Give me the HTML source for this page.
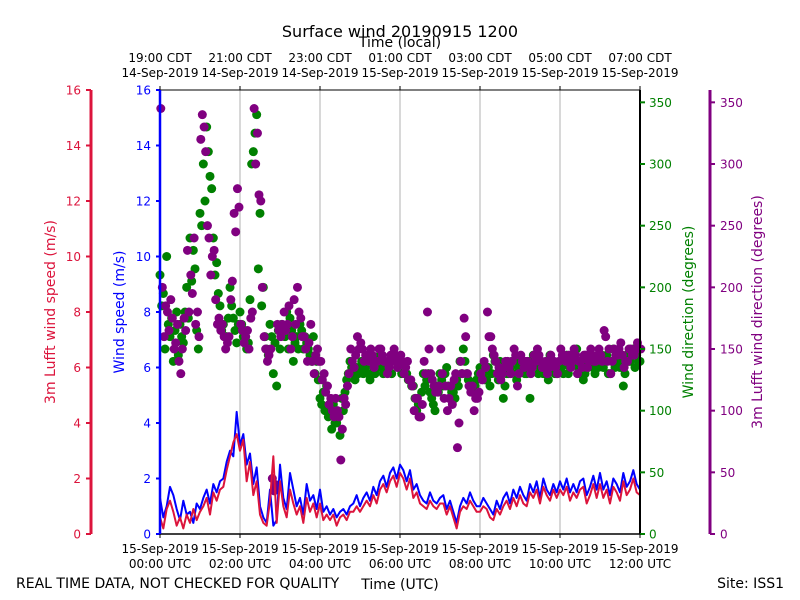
<!DOCTYPE html>
<html><head><meta charset="utf-8"><style>
html,body{margin:0;padding:0;background:#fff;width:800px;height:600px;overflow:hidden}
svg{font-family:"DejaVu Sans","Liberation Sans",sans-serif}
</style></head><body>
<svg id="c" width="800" height="600" viewBox="0 0 800 600"></svg>
<script>
const speedTicks=[0,2,4,6,8,10,12,14,16];
const dirTicks=[0,50,100,150,200,250,300,350];
const utcLabels=[["15-Sep-2019","00:00 UTC"],["15-Sep-2019","02:00 UTC"],["15-Sep-2019","04:00 UTC"],["15-Sep-2019","06:00 UTC"],["15-Sep-2019","08:00 UTC"],["15-Sep-2019","10:00 UTC"],["15-Sep-2019","12:00 UTC"]];
const cdtLabels=[["19:00 CDT","14-Sep-2019"],["21:00 CDT","14-Sep-2019"],["23:00 CDT","14-Sep-2019"],["01:00 CDT","15-Sep-2019"],["03:00 CDT","15-Sep-2019"],["05:00 CDT","15-Sep-2019"],["07:00 CDT","15-Sep-2019"]];
const windSpeed=[1.3,0.6,1.0,1.7,1.4,0.9,0.5,1.2,0.7,0.8,0.4,1.1,
0.9,1.3,1.6,1.1,1.8,1.5,1.9,2.0,2.6,3.0,2.8,4.4,
3.2,3.6,2.5,2.9,1.8,2.4,1.0,0.6,0.4,1.6,0.3,0.5,
2.5,1.3,0.9,2.2,1.6,1.0,1.3,0.7,1.8,1.2,1.4,0.9,
1.6,0.8,1.0,0.7,0.9,0.6,0.8,0.9,0.7,1.0,1.1,1.4,
1.0,1.3,1.5,1.2,1.7,1.4,1.9,2.1,1.7,2.2,2.4,2.0,
2.5,2.3,1.9,2.3,1.6,1.8,1.4,1.2,1.1,1.5,1.2,1.1,
1.3,1.4,0.9,1.2,0.8,0.4,1.0,1.3,1.1,1.5,1.2,1.0,
1.0,1.3,1.1,0.9,0.7,1.2,0.9,1.3,1.5,1.1,1.6,1.3,
1.7,1.4,1.2,1.8,1.5,1.9,1.3,2.0,1.6,1.4,1.8,1.5,
1.9,1.6,2.0,1.5,1.8,1.5,1.9,2.0,1.4,1.7,2.1,1.6,
2.2,1.6,1.9,1.4,2.0,1.8,1.5,2.2,1.7,1.9,2.3,1.8,1.6];
const lufftSpeed=[0.6,0.2,0.9,1.2,0.8,0.3,0.6,0.2,0.7,0.4,0.9,0.5,
0.8,1.0,1.3,0.7,1.5,1.2,1.6,1.7,2.3,2.8,3.3,3.6,
3.0,3.4,1.9,2.6,1.4,1.9,0.7,0.4,0.3,1.2,2.8,0.4,
1.9,1.0,0.6,1.6,1.1,0.7,1.0,0.4,1.3,0.8,1.1,0.6,
1.1,0.5,0.7,0.5,0.7,0.3,0.6,0.7,0.5,0.8,0.8,1.0,
0.8,1.0,1.2,1.0,1.4,1.1,1.6,1.8,1.5,1.9,2.1,1.7,
2.2,2.0,1.6,2.0,1.3,1.5,1.1,1.0,0.9,1.2,1.0,0.9,
1.1,1.1,0.7,1.0,0.6,0.2,0.8,1.0,0.9,1.2,1.0,0.8,
0.8,1.0,0.9,0.6,0.5,0.9,0.7,1.0,1.2,0.9,1.3,1.0,
1.4,1.1,1.0,1.5,1.3,1.6,1.1,1.7,1.4,1.2,1.6,1.3,
1.6,1.4,1.7,1.2,1.5,1.3,1.6,1.7,1.1,1.4,1.8,1.3,
1.8,1.3,1.6,1.1,1.7,1.5,1.2,1.9,1.4,1.6,2.0,1.5,1.4];
const windDir=[210,195,225,160,140,180,170,155,200,240,230,165,
260,300,330,290,240,220,185,170,160,200,175,155,
180,160,150,190,310,340,260,200,150,170,130,120,
150,165,180,175,140,160,170,150,155,145,160,140,
110,115,120,100,105,90,80,100,125,140,130,135,
135,130,140,125,135,140,145,130,135,140,145,140,
140,135,130,125,120,100,95,130,125,115,105,120,
130,120,135,110,115,125,140,150,130,120,115,125,
135,130,125,120,145,130,140,110,130,135,140,125,
140,135,130,110,145,140,135,130,140,145,135,130,
140,130,145,135,140,150,130,125,140,145,135,140,
140,135,145,130,150,140,135,120,145,140,150,145,140];
const windDirB=[185,150,170,175,165,145,160,180,175,205,215,150,
250,270,310,280,210,195,165,160,175,185,165,170,
170,165,155,300,325,215,185,160,145,160,155,165,
170,160,150,165,155,150,165,160,150,140,130,125,
105,100,95,85,90,95,110,115,130,135,125,130,
140,135,130,140,130,135,140,135,140,130,140,135,
130,130,125,120,110,105,115,120,130,110,100,115,
125,130,120,115,110,120,130,140,125,115,120,130,
130,125,135,130,140,125,135,120,130,140,130,135,
135,130,140,135,140,130,140,135,125,140,130,135,
135,140,130,140,145,135,140,130,135,140,130,135,
145,140,130,140,135,145,140,130,140,145,135,140];
const lufftDir=[345,160,180,190,150,170,130,175,230,210,240,180,
320,330,250,210,230,170,165,160,155,190,260,280,
170,155,165,175,345,325,270,160,140,150,35,170,
160,180,170,150,190,200,175,160,140,170,130,150,
140,130,120,110,95,100,60,110,120,150,135,160,
155,140,145,150,135,140,150,140,130,145,150,135,
145,130,140,125,100,110,95,140,180,130,120,115,
150,110,100,120,125,70,140,175,130,115,100,110,
130,140,180,160,145,130,125,135,140,130,150,120,
145,135,140,130,145,150,140,135,130,145,140,130,
150,145,140,135,150,130,140,145,135,150,140,145,
145,165,140,130,150,145,155,135,140,150,145,155,150];
const lufftDirB=[200,185,165,175,155,140,150,165,180,195,170,160,
340,310,240,225,190,175,170,150,160,205,245,265,
165,160,150,180,300,275,200,150,145,45,40,165,
170,165,185,160,170,180,160,150,155,140,145,140,
125,115,105,100,110,95,85,105,130,140,145,150,
150,145,140,145,140,150,145,140,135,140,145,140,
140,135,125,120,110,95,105,130,150,125,115,120,
130,120,110,105,130,90,130,160,120,120,110,115,
125,135,160,150,140,135,130,140,135,140,145,130,
140,140,135,135,140,145,135,140,135,140,135,140,
145,140,145,140,145,140,135,145,140,145,140,150,
140,160,150,140,145,150,145,140,150,145,150,150];

const X0=160,X1=640,Y0=534,Y1=90;
const xT=h=>X0+(X1-X0)*h/12;
const yS=v=>Y0-(Y0-Y1)*v/16;
const yD=d=>Y0-(Y0-Y1)*d/360;
const hourOf=i=>i*5/60;
const svg=document.getElementById('c');
const NS='http://www.w3.org/2000/svg';
function mk(tag,attrs,parent){const e=document.createElementNS(NS,tag);for(const k in attrs)e.setAttribute(k,attrs[k]);(parent||svg).appendChild(e);return e;}
function txt(s,x,y,o,parent){const e=mk('text',Object.assign({x:x,y:y,'font-size':12},o||{}),parent);e.textContent=s;return e;}

const grid=mk('g',{});


for(let h=2;h<12;h+=2){mk('line',{x1:xT(h),x2:xT(h),y1:Y1,y2:Y0,stroke:'#b0b0b0','stroke-width':1},grid);}

const gDir=mk('g',{});


function dots(arr,off,color,group,name){arr.forEach((d,i)=>{const c=mk('circle',{cx:xT(hourOf(i)+off),cy:yD(d),r:4.5,fill:color},group);});}
dots(windDir,0,'#008000',gDir,'wind-direction-point');
dots(windDirB,2.5/60,'#008000',gDir,'wind-direction-point');
const gL=mk('g',{});


dots(lufftDir,0.02,'#800080',gL,'lufft-direction-point');
dots(lufftDirB,3.5/60,'#800080',gL,'lufft-direction-point');

function line(arr,color,w,name){const p=mk('polyline',{points:arr.map((v,i)=>xT(hourOf(i))+','+yS(v)).join(' '),fill:'none',stroke:color,'stroke-width':w,'stroke-linejoin':'round'});}
line(windSpeed,'#0000ff',2,'wind-speed-line');
line(lufftSpeed,'#dc143c',2,'lufft-wind-speed-line');

mk('line',{x1:X0,x2:X1,y1:Y1,y2:Y1,stroke:'#000','stroke-width':1});
mk('line',{x1:X0,x2:X1,y1:Y0,y2:Y0,stroke:'#000','stroke-width':1.5});
mk('line',{x1:X0,x2:X0,y1:Y1,y2:Y0,stroke:'#0000ff','stroke-width':2.5});
mk('line',{x1:X1,x2:X1,y1:Y1,y2:Y0,stroke:'#000','stroke-width':2});
mk('line',{x1:91,x2:91,y1:Y1,y2:Y0,stroke:'#dc143c','stroke-width':3});
mk('line',{x1:710,x2:710,y1:Y1,y2:Y0,stroke:'#800080','stroke-width':3});

const ax=mk('g',{});


speedTicks.forEach(v=>{const y=yS(v);
 mk('line',{x1:156,x2:160,y1:y,y2:y,stroke:'#0000ff','stroke-width':2},ax);
 txt(String(v),151,y+4.5,{'text-anchor':'end',fill:'#0000ff'},ax);
 mk('line',{x1:86,x2:91,y1:y,y2:y,stroke:'#dc143c','stroke-width':2},ax);
 txt(String(v),81,y+4.5,{'text-anchor':'end',fill:'#dc143c'},ax);
});
dirTicks.forEach(d=>{const y=yD(d);
 mk('line',{x1:640,x2:645,y1:y,y2:y,stroke:'#008000','stroke-width':2},ax);
 txt(String(d),649,y+4.5,{fill:'#008000'},ax);
 mk('line',{x1:710,x2:715,y1:y,y2:y,stroke:'#800080','stroke-width':2},ax);
 txt(String(d),720,y+4.5,{fill:'#800080'},ax);
});
utcLabels.forEach((l,i)=>{const x=xT(i*2);
 mk('line',{x1:x,x2:x,y1:Y0,y2:Y0+4,stroke:'#000'},ax);
 txt(l[0],x,553,{'text-anchor':'middle'},ax);txt(l[1],x,568,{'text-anchor':'middle'},ax);
});
cdtLabels.forEach((l,i)=>{const x=xT(i*2);
 mk('line',{x1:x,x2:x,y1:Y1-4,y2:Y1,stroke:'#000'},ax);
 txt(l[0],x,62,{'text-anchor':'middle'},ax);txt(l[1],x,77,{'text-anchor':'middle'},ax);
});

function rot(s,x,y,color,name){const t=txt(s,x,y,{'text-anchor':'middle',fill:color,'font-size':14,transform:'rotate(-90 '+x+' '+y+')'});}
rot('3m Lufft wind speed (m/s)',55,312,'#dc143c','lufft-speed-axis-title');
rot('Wind speed (m/s)',124,312,'#0000ff','speed-axis-title');
rot('Wind direction (degrees)',693,312,'#008000','direction-axis-title');
rot('3m Lufft wind direction (degrees)',762,312,'#800080','lufft-direction-axis-title');

let t;
t=txt('Surface wind 20190915 1200',400,37,{'text-anchor':'middle','font-size':16});
t=txt('Time (local)',400,47,{'text-anchor':'middle','font-size':14});
t=txt('Time (UTC)',400,589,{'text-anchor':'middle','font-size':14});
t=txt('REAL TIME DATA, NOT CHECKED FOR QUALITY',16,588,{'font-size':14});
t=txt('Site: ISS1',784,588,{'text-anchor':'end','font-size':14});
</script>
</body></html>
